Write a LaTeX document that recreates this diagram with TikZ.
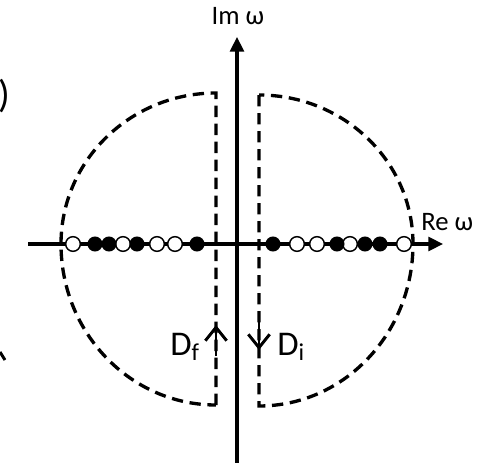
\documentclass[tikz,border=0pt]{standalone}
\usepackage{fontspec}
\setmainfont{Carlito}
\usetikzlibrary{arrows.meta}
\begin{document}
\begin{tikzpicture}[x=0.75pt,y=0.75pt,
  axis/.style={line width=2.3pt,-{Triangle[length=11pt,width=10.5pt]}},
  contour/.style={line width=2.5pt,dash pattern=on 8.5pt off 5pt},
  dirarrow/.style={line width=2.2pt,-{Straight Barb[length=10pt,width=16pt,line width=2.2pt]}},
  opendot/.style={circle,draw,fill=white,line width=1.1pt,minimum size=11pt,inner sep=0pt},
  filldot/.style={circle,fill=black,minimum size=11.3pt,inner sep=0pt},
  lab/.style={font=\fontsize{20}{23}\selectfont,inner sep=0pt},
  dlab/.style={font=\fontsize{26}{30}\selectfont,inner sep=0pt}]
\useasboundingbox (0,0) rectangle (487,462);
\clip (0,0) rectangle (487,462);
% axes
\coordinate (xl) at (28,218);
\coordinate (xr) at (443,218);
\coordinate (yb) at (237,-2);
\coordinate (yt) at (237,425);
\draw[axis] (xl) -- (xr);
\draw[axis] (yb) -- (yt);
% contours
\coordinate (lt) at (216,369);
\coordinate (lb) at (216,57);
\coordinate (rt) at (259,367);
\coordinate (rb) at (259,56);
\draw[contour] (lb) -- (lt)
  arc[start angle=90,end angle=180,x radius=116.25pt,y radius=113.25pt]
  arc[start angle=180,end angle=270,x radius=116.25pt,y radius=120.75pt];
\draw[contour] (rt) -- (rb)
  arc[start angle=270,end angle=360,x radius=115.5pt,y radius=121.5pt]
  arc[start angle=0,end angle=90,x radius=115.5pt,y radius=111.75pt];
% direction arrows
\coordinate (fa) at (216,106);
\coordinate (fb) at (216,137);
\coordinate (ia) at (259,141);
\coordinate (ib) at (259,112);
\draw[dirarrow] (fa) -- (fb);
\draw[dirarrow] (ia) -- (ib);
% poles / zeros
\foreach \x [count=\i] in {73,123,157,175,297,317,350,404}
  \node[opendot] (o\i) at (\x,218) {};
\foreach \x [count=\i] in {95,109,137,197,273,337,365,380}
  \node[filldot] (f\i) at (\x,218) {};
% labels
\node[lab,anchor=base] (im) at (238,437) {Im ω};
\node[lab,anchor=base west] (re) at (421,232) {Re ω};
\node[dlab,anchor=base west] (df) at (170,107) {D\textsubscript{f}};
\node[dlab,anchor=base west] (di) at (277,107) {D\textsubscript{i}};
% cropped fragments at the left edge
\node[font=\fontsize{29}{32}\selectfont,inner sep=0pt,anchor=base east] (par) at (10,354) {)};
\draw[line width=2.2pt] (0,110) -- (5,102);
\end{tikzpicture}
\end{document}
